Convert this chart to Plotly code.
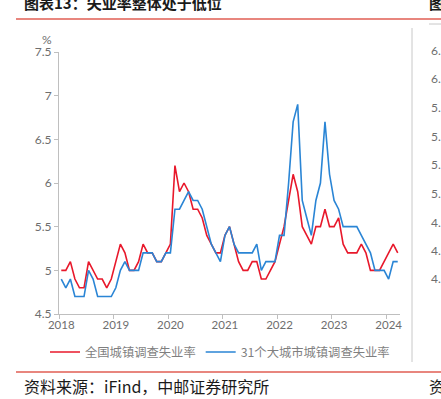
import plotly.graph_objects as go

# Monthly data, 2018-01 .. 2024-03
months_count = 75
year_labels = ["2018", "2019", "2020", "2021", "2022", "2023", "2024"]
national = [
    5.0, 5.0, 5.1, 4.9, 4.8, 4.8, 5.1, 5.0, 4.9, 4.9, 4.8, 4.9,   # 2018
    5.1, 5.3, 5.2, 5.0, 5.0, 5.1, 5.3, 5.2, 5.2, 5.1, 5.1, 5.2,   # 2019
    5.3, 6.2, 5.9, 6.0, 5.9, 5.7, 5.7, 5.6, 5.4, 5.3, 5.2, 5.2,   # 2020
    5.4, 5.5, 5.3, 5.1, 5.0, 5.0, 5.1, 5.1, 4.9, 4.9, 5.0, 5.1,   # 2021
    5.3, 5.5, 5.8, 6.1, 5.9, 5.5, 5.4, 5.3, 5.5, 5.5, 5.7, 5.5,   # 2022
    5.5, 5.6, 5.3, 5.2, 5.2, 5.2, 5.3, 5.2, 5.0, 5.0, 5.0, 5.1,   # 2023
    5.2, 5.3, 5.2,                                                # 2024
]
cities31 = [
    4.9, 4.8, 4.9, 4.7, 4.7, 4.7, 5.0, 4.9, 4.7, 4.7, 4.7, 4.7,   # 2018
    4.8, 5.0, 5.1, 5.0, 5.0, 5.0, 5.2, 5.2, 5.2, 5.1, 5.1, 5.2,   # 2019
    5.2, 5.7, 5.7, 5.8, 5.9, 5.8, 5.8, 5.7, 5.5, 5.3, 5.2, 5.1,   # 2020
    5.4, 5.5, 5.3, 5.2, 5.2, 5.2, 5.2, 5.3, 5.0, 5.1, 5.1, 5.1,   # 2021
    5.4, 5.4, 6.0, 6.7, 6.9, 5.8, 5.6, 5.4, 5.8, 6.0, 6.7, 6.1,   # 2022
    5.8, 5.7, 5.5, 5.5, 5.5, 5.5, 5.4, 5.3, 5.2, 5.0, 5.0, 5.0,   # 2023
    4.9, 5.1, 5.1,                                                # 2024
]
name_national = "全国城镇调查失业率"
name_cities = "31个大城市城镇调查失业率"

x = list(range(months_count))
year_pos = [12 * k for k in range(len(year_labels))]
year_bounds = [12 * k - 0.5 for k in range(len(year_labels))]

W, H = 441, 399
L, R, T, B = 59, 41, 52, 85
PW, PH = W - L - R, H - T - B

RED = "#E8182B"
BLUE = "#2A85D5"
GRAY_TXT = "#6e6e6e"
AXIS = "#bfbfbf"
FONT = "Lato, Noto Sans CJK SC, sans-serif"
CJK = "Noto Sans CJK SC, sans-serif"


def px_x(v):
    return (v - L) / PW


def px_y(v):
    return 1 - (v - T) / PH


fig = go.Figure()
fig.add_trace(go.Scatter(x=x, y=national, mode="lines", name=name_national,
                         line=dict(color=RED, width=1.6)))
fig.add_trace(go.Scatter(x=x, y=cities31, mode="lines", name=name_cities,
                         line=dict(color=BLUE, width=1.6)))

fig.update_layout(
    width=W, height=H,
    margin=dict(l=L, r=R, t=T, b=B, autoexpand=False),
    paper_bgcolor="white", plot_bgcolor="white",
    font=dict(family=FONT, color=GRAY_TXT, size=12),
    showlegend=True,
    legend=dict(orientation="h", xref="paper", yref="paper",
                x=px_x(45), xanchor="left", y=px_y(352), yanchor="middle",
                font=dict(family=CJK, size=12.3, color="#7f7f7f"),
                itemwidth=30, tracegroupgap=0, bgcolor="rgba(0,0,0,0)"),
    xaxis=dict(range=[-0.5, 74.5], tickmode="array", tickvals=year_pos,
               ticktext=year_labels, ticks="", showgrid=False, zeroline=False,
               showline=True, linecolor=AXIS, linewidth=1,
               tickfont=dict(size=11.5, color=GRAY_TXT, family=FONT),
               minor=dict(tickmode="array", tickvals=year_bounds, ticks="outside",
                          ticklen=4, tickcolor=AXIS, showgrid=False)),
    yaxis=dict(range=[4.5, 7.5], tickmode="linear", tick0=4.5, dtick=0.5,
               ticks="outside", ticklen=4, tickcolor=AXIS, showgrid=False,
               zeroline=False, showline=True, linecolor=AXIS, linewidth=1,
               tickfont=dict(size=12, color=GRAY_TXT, family=FONT)),
)

# Title, separators, footer and the neighbouring panel's cut-off edge
ann = [
    dict(text="<b>图表13：失业率整体处于低位</b>", x=22, y=3, xanchor="left",
         size=15, color="#1a1a1a", family=CJK),
    dict(text="<b>图</b>", x=427, y=3, xanchor="left", size=15, color="#1a1a1a", family=CJK),
    dict(text="%", x=47, y=40, xanchor="center", size=12, color=GRAY_TXT, family=FONT),
    dict(text="资料来源：iFind，中邮证券研究所", x=22, y=386, xanchor="left",
         size=16, color="#1a1a1a", family=CJK),
    dict(text="资", x=427, y=386, xanchor="left", size=16, color="#1a1a1a", family=CJK),
]
for lab, yy in zip(["6.", "6.", "5.", "5.", "5.", "5.", "4.", "4.", "4."],
                   [50, 78, 107, 136, 164, 193, 222, 250, 278]):
    ann.append(dict(text=lab, x=429, y=yy, xanchor="left", size=12,
                    color=GRAY_TXT, family=FONT))
for a in ann:
    fig.add_annotation(xref="paper", yref="paper",
                       x=px_x(a["x"]), y=px_y(a["y"]),
                       text=a["text"], showarrow=False, xanchor=a["xanchor"],
                       yanchor="middle",
                       font=dict(size=a["size"], color=a["color"], family=a["family"]))

shapes = [
    dict(x0=16, x1=441, y0=19, y1=19, color="#e8867e", w=2),
    dict(x0=16, x1=441, y0=372, y1=372, color="#e8867e", w=2),
    dict(x0=412, x1=412, y0=28, y1=362, color="#c8c8c8", w=1),
    dict(x0=429, x1=441, y0=24, y1=24, color="#c8c8c8", w=1),
]
for s in shapes:
    fig.add_shape(type="line", xref="paper", yref="paper",
                  x0=px_x(s["x0"]), x1=px_x(s["x1"]), y0=px_y(s["y0"]), y1=px_y(s["y1"]),
                  line=dict(color=s["color"], width=s["w"]))

fig.write_html("out.html", config={"displayModeBar": False},
               post_script="document.body.style.margin='0';document.body.style.overflow='hidden';")
